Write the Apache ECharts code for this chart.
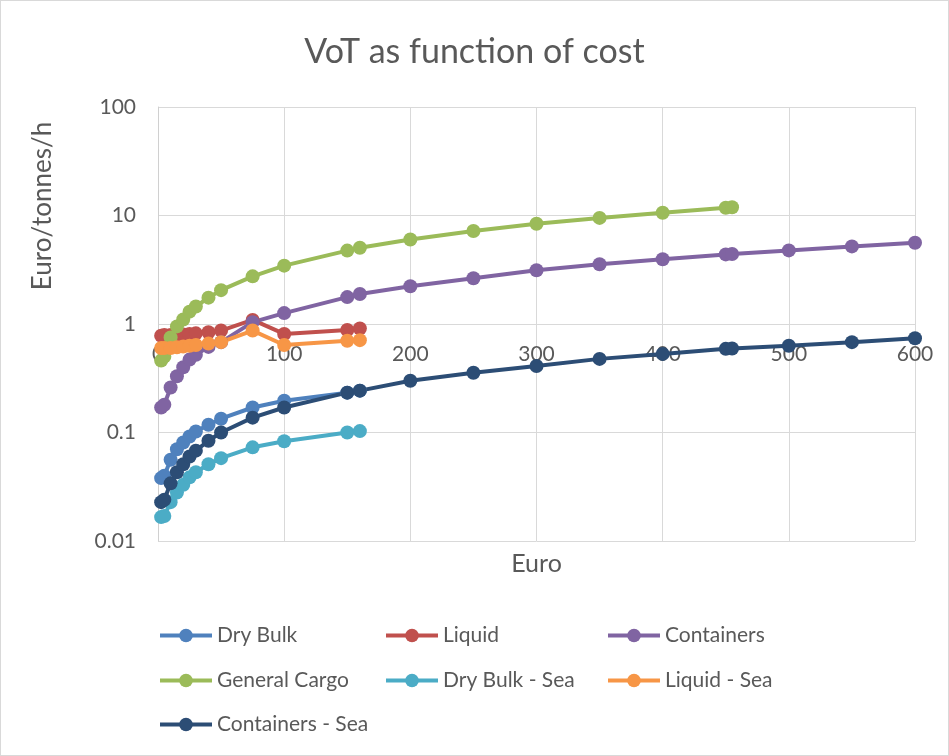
<!DOCTYPE html>
<html>
<head>
<meta charset="utf-8">
<script src="https://cdn.jsdelivr.net/npm/echarts@6/dist/echarts.min.js"></script>
<style>
  html, body { margin: 0; padding: 0; background: #fff; }
  #main { width: 949px; height: 756px; box-sizing: border-box; border: 1px solid #d9d9d9; }
</style>
</head>
<body>
<div id="main"></div>
<script>
// x values (Euro)
var costShort = [2.5, 5, 10, 15, 20, 25, 30, 40, 50, 75, 100, 150, 160]
var costLong = [2.5, 5, 10, 15, 20, 25, 30, 40, 50, 75, 100, 150, 160, 200, 250, 300, 350, 400, 450, 455, 500, 550, 600]

// VoT (Euro/tonnes/h)
var dryBulk = [0.038, 0.040, 0.056, 0.070, 0.081, 0.092, 0.102, 0.118, 0.134, 0.170, 0.196, 0.233, 0.243]
var liquid = [0.78, 0.79, 0.79, 0.80, 0.80, 0.81, 0.82, 0.84, 0.87, 1.09, 0.81, 0.88, 0.91]
var containers = [0.17, 0.18, 0.26, 0.33, 0.40, 0.47, 0.52, 0.615, 0.68, 1.04, 1.26, 1.77, 1.89, 2.23, 2.64, 3.13, 3.55, 3.95, 4.38, 4.42, 4.77, 5.19, 5.6]
var generalCargo = [0.46, 0.50, 0.75, 0.95, 1.1, 1.3, 1.45, 1.75, 2.05, 2.75, 3.45, 4.75, 5.05, 6.0, 7.2, 8.4, 9.5, 10.6, 11.8, 11.9]
var dryBulkSea = [0.0166, 0.017, 0.0228, 0.028, 0.033, 0.0386, 0.043, 0.051, 0.058, 0.073, 0.083, 0.100, 0.103]
var liquidSea = [0.60, 0.60, 0.60, 0.61, 0.62, 0.63, 0.64, 0.66, 0.68, 0.87, 0.64, 0.70, 0.71]
var containersSea = [0.0228, 0.024, 0.034, 0.043, 0.051, 0.060, 0.068, 0.084, 0.100, 0.137, 0.17, 0.233, 0.243, 0.30, 0.355, 0.41, 0.477, 0.53, 0.59, 0.595, 0.63, 0.68, 0.74]

var xTicks = [0, 100, 200, 300, 400, 500, 600]
var yTicks = [0.01, 0.1, 1, 10, 100]

var names = ['Dry Bulk', 'Liquid', 'Containers', 'General Cargo', 'Dry Bulk - Sea', 'Liquid - Sea', 'Containers - Sea']
var colors = ['#4F81BD', '#C0504D', '#8064A2', '#9BBB59', '#4BACC6', '#F79646', '#2C4D75']
var values = [dryBulk, liquid, containers, generalCargo, dryBulkSea, liquidSea, containersSea]

function pairs(ys) {
    var xs = ys.length > costShort.length ? costLong : costShort
    return ys.map(function (v, i) { return [xs[i], v] })
}

var font = 'Lato, "Open Sans", sans-serif'
var grey = '#595959'
var fs = 21
var nameFs = 25

var chart = echarts.init(document.getElementById('main'))

// legend laid out like Excel: 3 columns, 3 rows
var legendCols = [157, 383, 605]
var legendRows = [636, 681, 725]
var legends = names.map(function (n, i) {
    return {
        data: [n],
        left: legendCols[i % 3],
        top: legendRows[Math.floor(i / 3)] - 12,
        padding: 0,
        itemWidth: 52,
        itemHeight: 17,
        selectedMode: false,
        lineStyle: { width: 4 },
        textStyle: { fontFamily: font, fontSize: fs, color: grey }
    }
})

var option = {
    animation: false,
    textStyle: { fontFamily: font },
    title: {
        text: 'VoT as function of cost',
        left: 'center',
        top: 29,
        textStyle: { fontFamily: font, fontSize: 34, fontWeight: 'normal', color: grey }
    },
    legend: legends,
    grid: { left: 157, right: 33, top: 106, bottom: 214 },
    xAxis: [{
        type: 'value',
        min: xTicks[0],
        max: xTicks[xTicks.length - 1],
        interval: 100,
        offset: -218,
        axisLine: { show: false },
        axisTick: { show: false },
        axisLabel: { margin: 21, fontSize: fs, color: grey, fontFamily: font },
        splitLine: { lineStyle: { color: '#d9d9d9', width: 1 } }
    }, {
        type: 'value',
        min: xTicks[0],
        max: xTicks[xTicks.length - 1],
        position: 'bottom',
        name: 'Euro',
        nameLocation: 'middle',
        nameGap: 10,
        nameTextStyle: { fontFamily: font, fontSize: nameFs, color: grey },
        axisLine: { show: false },
        axisTick: { show: false },
        axisLabel: { show: false },
        splitLine: { show: false }
    }],
    yAxis: {
        type: 'log',
        logBase: 10,
        min: yTicks[0],
        max: yTicks[yTicks.length - 1],
        axisLine: { show: true, lineStyle: { color: '#d0d0d0', width: 1 } },
        axisTick: { show: false },
        axisLabel: { margin: 22, fontSize: fs, color: grey, fontFamily: font },
        splitLine: { lineStyle: { color: '#d9d9d9', width: 1 } }
    },
    graphic: [{
        type: 'text',
        x: 42,
        y: 205,
        rotation: Math.PI / 2,
        style: {
            text: 'Euro/tonnes/h',
            fontFamily: font,
            fontSize: nameFs + 1,
            fill: grey,
            align: 'center',
            verticalAlign: 'middle'
        }
    }],
    series: names.map(function (n, i) {
        return {
            name: n,
            type: 'line',
            xAxisIndex: 0,
            data: pairs(values[i]),
            symbol: 'circle',
            symbolSize: 14,
            color: colors[i],
            lineStyle: { width: 4, color: colors[i] },
            itemStyle: { color: colors[i] }
        }
    })
}
chart.setOption(option)
</script>
</body>
</html>
